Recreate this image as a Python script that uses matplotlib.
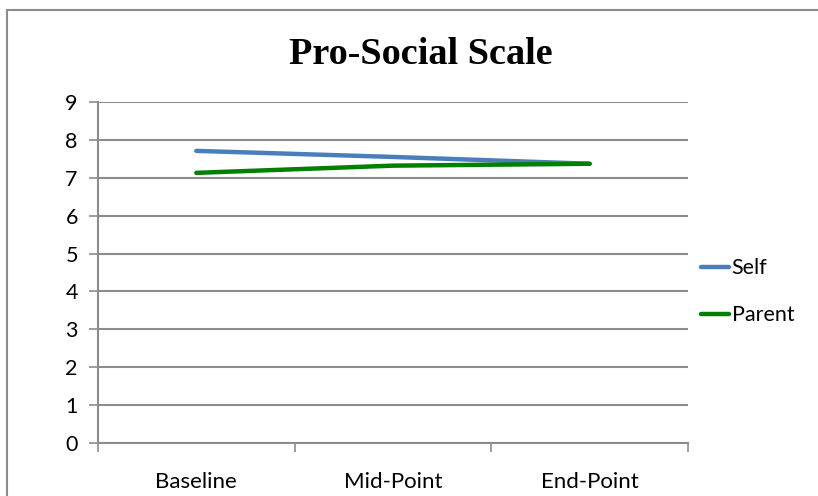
import matplotlib.pyplot as plt
from matplotlib.patches import Rectangle

categories = ['Baseline', 'Mid-Point', 'End-Point']
self_scores = [7.71, 7.55, 7.37]
parent_scores = [7.13, 7.32, 7.37]
y_ticks = list(range(0, 10))

fig = plt.figure(figsize=(8.18, 4.96), dpi=100)

# chart border
fig.patches.append(Rectangle((7 / 818, -0.05), 1.0, 1 - 10 / 496 + 0.05,
                             transform=fig.transFigure, fill=False,
                             edgecolor='#8c8c8c', linewidth=1.5))

ax = fig.add_axes([98 / 818, 1 - 443 / 496, 590 / 818, 341 / 496])
x = range(len(categories))
ax.plot(x, self_scores, color='#4a7ebb', linewidth=3.2, solid_capstyle='round', label='Self')
ax.plot(x, parent_scores, color='#008000', linewidth=3.2, solid_capstyle='round', label='Parent')

ax.set_xlim(-0.5, len(categories) - 0.5)
ax.set_ylim(0, 9)
ax.set_yticks(y_ticks)
ax.set_xticks(list(x))
ax.set_xticklabels(categories)
ax.set_xticks([i - 0.5 for i in range(len(categories) + 1)], minor=True)
ax.tick_params(axis='x', which='major', length=0, pad=21, labelsize=16)
ax.tick_params(axis='x', which='minor', length=6.5, color='#8c8c8c', width=1.2)
ax.tick_params(axis='y', length=6.5, color='#8c8c8c', width=1.2, labelsize=15.5, pad=8)
for lab in ax.get_xticklabels() + ax.get_yticklabels():
    lab.set_family('Lato')

ax.grid(axis='y', color='#8c8c8c', linewidth=1.5)
ax.set_axisbelow(True)
for s in ['top', 'right']:
    ax.spines[s].set_visible(False)
ax.spines['left'].set_color('#8c8c8c')
ax.spines['bottom'].set_color('#8c8c8c')
ax.spines['left'].set_linewidth(1.5)
ax.spines['bottom'].set_linewidth(1.5)

fig.text(421 / 818, 1 - 55 / 496, 'Pro-Social Scale', ha='center', va='center',
         family='Liberation Serif', weight='bold', fontsize=27.5)

leg = ax.legend(loc='center left', bbox_to_anchor=(0.99, 0.444), frameon=False,
                handlelength=1.3, handletextpad=0.1, labelspacing=1.25,
                prop={'family': 'Lato', 'size': 15.5})

fig.savefig('out.png', dpi=100)
